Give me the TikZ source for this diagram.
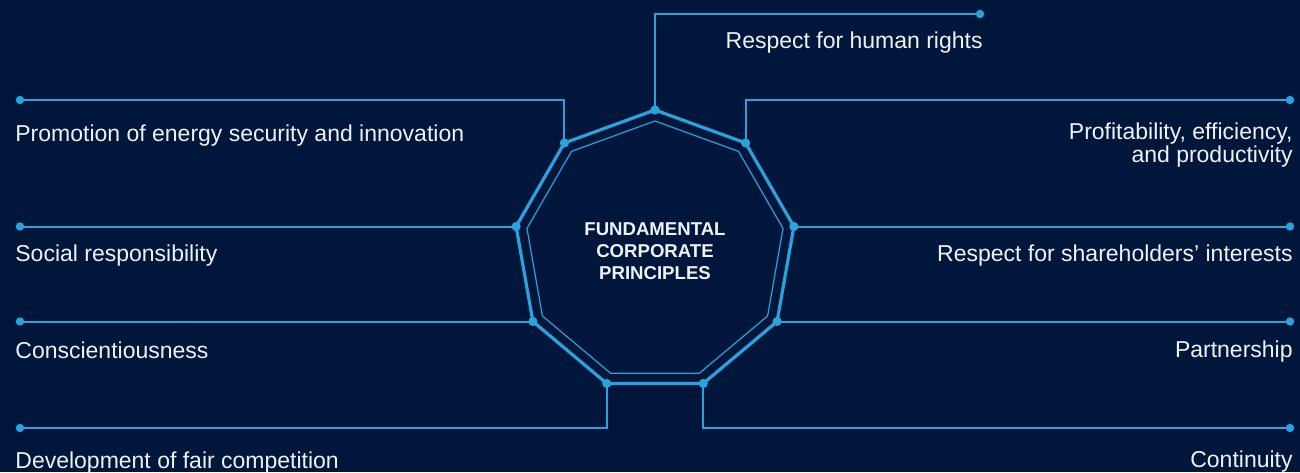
\documentclass[tikz,border=0pt]{standalone}
\usepackage{fontspec}
\setmainfont{Liberation Sans}
\definecolor{navyBg}{RGB}{0, 22, 58}
\definecolor{lineBlue}{RGB}{42, 162, 222}
\definecolor{textWhite}{RGB}{238, 242, 247}
\usetikzlibrary{calc}

\begin{document}
\begin{tikzpicture}[
    x=0.5pt, y=0.5pt,
    ring/.style={lineBlue, line width=1.6pt, line join=miter},
    inring/.style={lineBlue, line width=0.6pt},
    link/.style={lineBlue, line width=1pt},
    endpt/.style={fill=lineBlue},
    princ/.style={text=textWhite, font=\fontsize{11.5}{11.7}\selectfont, inner sep=0pt},
    title/.style={text=textWhite, font=\bfseries\fontsize{9.3}{10.85}\selectfont, align=center}
  ]
    % Background
    \fill[navyBg] (0, 0) rectangle (1300, 472);
    \useasboundingbox (0, 0) rectangle (1300, 472);

    % Nonagon corners
    \coordinate (c) at (655, 221);
    \foreach \i in {0,...,8} {
      \coordinate (v\i) at ($(c)+(90-40*\i:141)$);
      \coordinate (w\i) at ($(c)+(90-40*\i:130)$);
    }
    \draw[ring] (v0) \foreach \i in {1,...,8} {-- (v\i)} -- cycle;
    \draw[inring] (w0) \foreach \i in {1,...,8} {-- (w\i)} -- cycle;

    \node[title] (core) at (655, 221) {FUNDAMENTAL\\CORPORATE\\PRINCIPLES};

    % Line ends
    \coordinate (e0) at (980, 458);
    \coordinate (e1) at (1290, 372);
    \coordinate (e2) at (v2 -| e1);
    \coordinate (e3) at (v3 -| e1);
    \coordinate (e4) at (1290, 44);
    \coordinate (e5) at (20, 44);
    \coordinate (e6) at (v6 -| e5);
    \coordinate (e7) at (v7 -| e5);
    \coordinate (e8) at (20, 372);

    % Connectors
    \draw[link] (v0) |- (e0);
    \draw[link] (v1) |- (e1);
    \draw[link] (v2) -- (e2);
    \draw[link] (v3) -- (e3);
    \draw[link] (v4) |- (e4);
    \draw[link] (v5) |- (e5);
    \draw[link] (v6) -- (e6);
    \draw[link] (v7) -- (e7);
    \draw[link] (v8) |- (e8);

    \foreach \i in {0,...,8} {
      \fill[endpt] (v\i) circle (2.3pt);
      \fill[endpt] (e\i) circle (2.1pt);
    }

    % Right side
    \node[princ, anchor=base east] (rights) at (983, 423) {Respect for human rights};
    \node[princ, anchor=base east, align=right] (profit) at (1293, 309) {Profitability, efficiency,\\and productivity};
    \node[princ, anchor=base east] (holders) at (1293, 211) {Respect for shareholders’ interests};
    \node[princ, anchor=base east] (partner) at (1293, 115) {Partnership};
    \node[princ, anchor=base east] (contin) at (1293, 5) {Continuity};

    % Left side
    \node[princ, anchor=base west] (energy) at (15, 330) {Promotion of energy security and innovation};
    \node[princ, anchor=base west] (social) at (15, 211) {Social responsibility};
    \node[princ, anchor=base west] (consc) at (15, 114) {Conscientiousness};
    \node[princ, anchor=base west] (compet) at (15, 4) {Development of fair competition};
  \end{tikzpicture}
\end{document}
